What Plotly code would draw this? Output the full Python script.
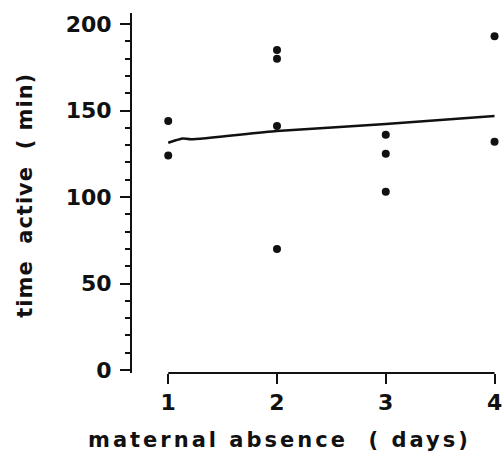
import plotly.graph_objects as go

# Observations: days of maternal absence vs. time active (min)
days = [1, 1, 2, 2, 2, 2, 3, 3, 3, 4, 4]
time_active = [144, 124, 185, 180, 141, 70, 136, 125, 103, 193, 132]

# Fitted trend line
fit_days = [1.0, 1.07, 1.13, 1.21, 2.0, 3.0, 4.0]
fit_active = [131.4, 132.8, 133.9, 133.4, 138.2, 142.2, 146.8]

x_ticks = [1, 2, 3, 4]
y_ticks = [0, 50, 100, 150, 200]

FONT = "DejaVu Sans"
INK = "#111111"


def spaced(text, px):
    return f'<span style="letter-spacing:{px}px">{text}</span>'


fig = go.Figure()

fig.add_trace(go.Scatter(
    x=fit_days, y=fit_active, mode="lines",
    line=dict(color=INK, width=2.5, shape="spline", smoothing=0.6),
    hoverinfo="skip", showlegend=False,
))
fig.add_trace(go.Scatter(
    x=days, y=time_active, mode="markers",
    marker=dict(color=INK, size=8),
    cliponaxis=False, showlegend=False,
))

# x axis line runs only between the first and last day
fig.add_shape(type="line", xref="x", yref="paper",
              x0=x_ticks[0], x1=x_ticks[-1], y0=0, y1=0,
              line=dict(color=INK, width=2))

tick_font = dict(family=FONT, size=22, color=INK, weight="bold")

fig.update_xaxes(
    range=[0.667, 4.041], showgrid=False, zeroline=False, showline=False,
    tickvals=x_ticks, ticks="outside", ticklen=10, tickwidth=2, tickcolor=INK,
    ticklabelstandoff=0, ticklabeloverflow="allow",
    tickfont=tick_font,
)
fig.update_yaxes(
    range=[-1.73, 206.4], showgrid=False, zeroline=False,
    showline=True, linewidth=2, linecolor=INK,
    tickvals=y_ticks, ticks="outside", ticklen=10, tickwidth=2, tickcolor=INK,
    ticklabelstandoff=4,
    minor=dict(dtick=10, ticks="outside", ticklen=5, tickwidth=2, tickcolor=INK),
    tickfont=tick_font,
)

title_font = dict(family=FONT, size=21, color=INK, weight="bold")
fig.add_annotation(text=spaced("maternal absence  ( days)", 3.0),
                   xref="paper", yref="paper",
                   x=0.403, y=-0.186, xanchor="center", yanchor="middle",
                   showarrow=False, font=title_font)
fig.add_annotation(text=spaced("time  active  ( min)", 1.0),
                   xref="paper", yref="paper",
                   x=-0.29, y=0.494, xanchor="center", yanchor="middle",
                   textangle=-90, showarrow=False, font=title_font)

fig.update_layout(
    width=502, height=459,
    margin=dict(l=132, r=0, t=13, b=86),
    paper_bgcolor="white", plot_bgcolor="white",
)

fig.write_html("out.html")
